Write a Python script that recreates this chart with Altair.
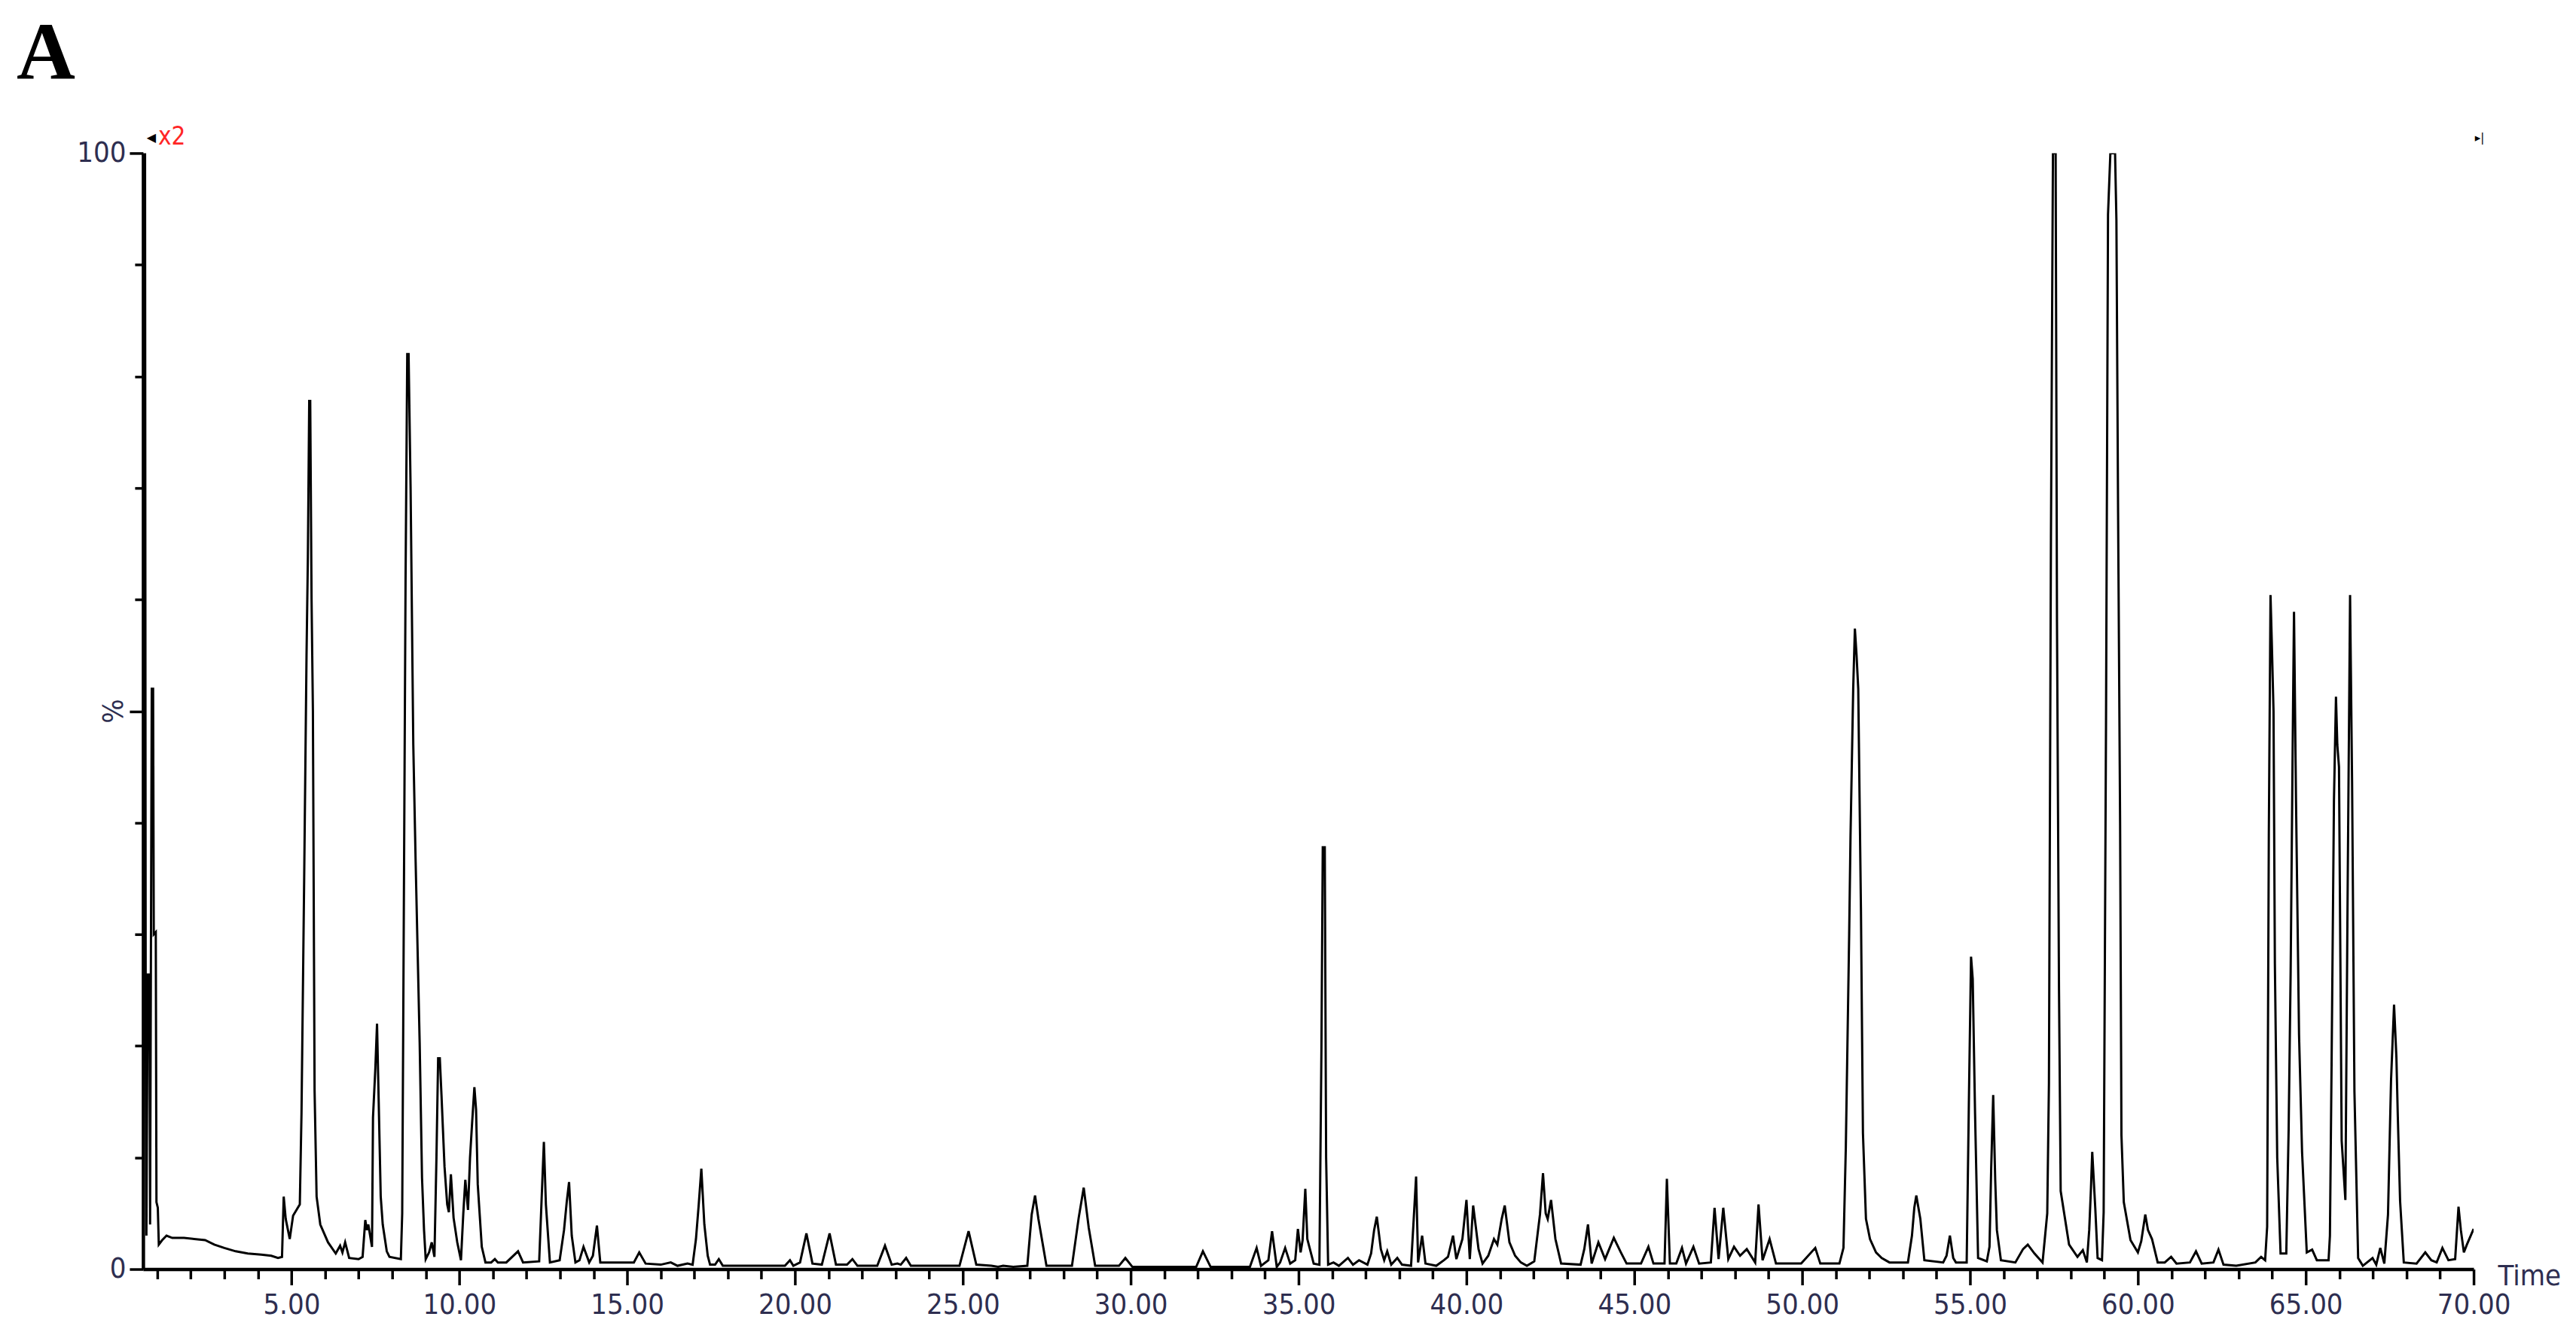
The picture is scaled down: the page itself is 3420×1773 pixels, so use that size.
import altair as alt
import pandas as pd

# ---- chromatogram trace (time in min, intensity in %) ----
time_min = [
    0.59, 0.60, 0.64, 0.66, 0.68, 0.72, 0.77, 0.79, 0.84, 0.88, 0.90, 0.96, 0.98, 1.02, 1.05, 1.15, 1.28, 1.45,
    1.8, 2.1, 2.43, 2.7, 3.0, 3.34, 3.7, 4.1, 4.4, 4.6, 4.72,
    4.77, 4.83, 4.95, 5.05, 5.17, 5.25, 5.30, 5.38, 5.45, 5.49, 5.53, 5.56, 5.60, 5.64, 5.69, 5.75, 5.86, 6.09,
    6.32, 6.45, 6.52, 6.60, 6.72, 7.0, 7.12, 7.20, 7.25, 7.29, 7.40, 7.43, 7.50, 7.55, 7.60, 7.66, 7.72, 7.84,
    7.92, 8.26,
    8.30, 8.33, 8.40, 8.45, 8.49, 8.55, 8.63, 8.70, 8.82, 8.89, 8.95, 9.00, 9.10, 9.18, 9.26, 9.32, 9.37, 9.42,
    9.47, 9.56, 9.64, 9.69, 9.75, 9.83, 9.94, 10.05, 10.12, 10.18, 10.26, 10.32, 10.38, 10.45, 10.50, 10.55,
    10.61, 10.67, 10.78,
    10.95, 11.06, 11.15, 11.4, 11.75, 11.90, 12.38, 12.44, 12.52, 12.58, 12.70, 12.99, 13.12, 13.20, 13.27,
    13.35, 13.46, 13.58, 13.70, 13.87, 13.98, 14.10, 14.20, 14.8, 15.20, 15.36, 15.55, 16.0, 16.3, 16.5, 16.8,
    16.95, 17.05, 17.13, 17.21, 17.30, 17.40, 17.47, 17.62, 17.73, 17.85, 19.7,
    19.85, 19.95, 20.15, 20.34, 20.52, 20.80, 21.03, 21.22, 21.55, 21.71, 21.86, 22.45, 22.68, 22.88, 23.05,
    23.15, 23.31, 23.45, 24.90, 25.17, 25.40, 25.85, 26.05, 26.2, 26.5, 26.92, 27.05, 27.15, 27.25, 27.49,
    28.25, 28.45, 28.60, 28.75, 28.94, 29.65, 29.84, 30.05, 31.95, 32.15, 32.38, 33.55, 33.75, 33.88, 34.10,
    34.21, 34.35, 34.45, 34.60, 34.75, 34.90, 34.98, 35.06, 35.12, 35.20, 35.26, 35.32, 35.45, 35.62, 35.68,
    35.72, 35.78, 35.82, 35.88, 36.04, 36.20,
    36.47, 36.62, 36.80, 37.05, 37.16, 37.25, 37.33, 37.45, 37.55, 37.64, 37.76, 37.94, 38.08, 38.35, 38.42,
    38.50, 38.56, 38.68, 38.78, 39.10, 39.33, 39.45, 39.60, 39.70, 39.88, 40.00, 40.10, 40.20, 40.36, 40.48,
    40.65, 40.82, 40.92, 41.05, 41.14, 41.28, 41.45, 41.62, 41.80, 42.02, 42.19, 42.28, 42.36, 42.42, 42.52,
    42.65, 42.82, 43.40, 43.51, 43.62, 43.73, 43.93, 44.13, 44.39, 44.60, 44.77, 45.20, 45.42, 45.57, 45.90,
    45.97, 46.06, 46.25, 46.42, 46.54, 46.76, 46.93, 47.28, 47.39, 47.51, 47.65, 47.80, 47.97, 48.15, 48.35,
    48.60, 48.70, 48.82, 49.03, 49.22, 49.97, 50.39, 50.54, 51.11, 51.23,
    51.30, 51.40, 51.44, 51.52, 51.57, 51.62, 51.67, 51.75, 51.81, 51.90, 52.02, 52.20, 52.37, 52.60, 53.15,
    53.27, 53.34, 53.40, 53.52, 53.64, 54.20, 54.30, 54.40, 54.50, 54.58, 54.90, 54.97, 55.03, 55.08, 55.15,
    55.24, 55.50, 55.58, 55.63, 55.69, 55.75, 55.80, 55.92, 56.35, 56.58, 56.72, 56.92, 57.16, 57.30, 57.35,
    57.41, 57.47, 57.55, 57.59, 57.65, 57.70, 57.95, 58.20, 58.36, 58.48, 58.55, 58.60, 58.64, 58.73, 58.80,
    58.93, 58.98, 59.05, 59.11, 59.18, 59.32, 59.36, 59.41, 59.47, 59.51, 59.58, 59.78, 60.00, 60.10, 60.22,
    60.30, 60.42, 60.59, 60.80, 60.99, 61.15, 61.55, 61.73, 61.90, 62.25, 62.40, 62.55, 62.93, 63.50, 63.67,
    63.79, 63.85, 63.90, 63.95, 63.99, 64.04, 64.08, 64.15, 64.25, 64.42, 64.49, 64.55, 64.62, 64.65, 64.71,
    64.80, 64.89, 65.03, 65.19, 65.33, 65.68, 65.72, 65.77, 65.84, 65.90, 65.94, 65.99, 66.07, 66.18, 66.25,
    66.32, 66.38, 66.45, 66.56, 66.70, 66.99, 67.10, 67.22, 67.34, 67.45, 67.54, 67.63, 67.70, 67.74, 67.81,
    67.92, 68.30, 68.56, 68.74, 68.90, 69.07, 69.25, 69.45, 69.55, 69.62, 69.71, 69.80, 70.00,
]

signal_pct = [
    1.5, 100, 100, 20, 3, 26.4, 26.4, 4, 52, 52, 30, 30.2, 6, 5.5, 2.2, 2.6, 3.0, 2.8,
    2.8, 2.7, 2.6, 2.2, 1.9, 1.6, 1.4, 1.3, 1.2, 1.0, 1.1,
    6.5, 4.5, 2.7, 4.8, 5.4, 5.8, 13.9, 35, 55, 63.8, 77.8, 77.8, 60, 50, 16, 6.5, 4.0, 2.4,
    1.4, 2.1, 1.5, 2.4, 1.0, 0.9, 1.1, 4.4, 3.5, 4.0, 2.0, 13.6, 18, 22.0, 15, 6.5, 4, 1.6,
    1.1, 0.9,
    5, 21.6, 61.8, 82, 82, 69.9, 47, 36.5, 20.3, 8.2, 3.5, 0.9, 1.5, 2.4, 1.1, 10, 18.9, 18.9,
    15.6, 9.2, 5.8, 5.1, 8.5, 4.6, 2.4, 0.8, 5, 8.0, 5.3, 10, 13, 16.3, 14.3, 7.6,
    4.8, 2.0, 0.6,
    0.6, 0.9, 0.6, 0.6, 1.6, 0.6, 0.7, 5.3, 11.4, 5.8, 0.6, 0.8, 3.5, 6, 7.8,
    3.0, 0.6, 0.8, 2.0, 0.6, 1.2, 3.9, 0.6, 0.6, 0.6, 1.5, 0.5, 0.4, 0.6, 0.3, 0.5,
    0.4, 2.7, 5.7, 9.0, 4.0, 1.2, 0.4, 0.4, 0.9, 0.3, 0.3,
    0.8, 0.3, 0.6, 3.2, 0.5, 0.4, 3.2, 0.4, 0.4, 0.9, 0.3, 0.3, 2.1, 0.4, 0.5,
    0.4, 1.0, 0.3, 0.3, 3.4, 0.4, 0.3, 0.2, 0.3, 0.2, 0.3, 4.9, 6.6, 4.5, 0.3,
    0.3, 4.6, 7.3, 3.7, 0.3, 0.3, 1.0, 0.2, 0.2, 1.6, 0.2, 0.2, 1.9, 0.3, 0.8,
    3.4, 0.2, 0.6, 1.9, 0.5, 0.8, 3.6, 1.5, 2.6, 7.2, 2.7, 2.0, 0.5, 0.4, 19.6,
    37.8, 37.8, 10, 0.4, 0.6, 0.3,
    1.0, 0.4, 0.8, 0.4, 1.4, 3.5, 4.7, 1.8, 0.8, 1.6, 0.4, 1.0, 0.4, 0.3, 4,
    8.3, 0.6, 3.0, 0.5, 0.3, 0.8, 1.1, 3.0, 0.9, 2.7, 6.2, 0.9, 5.7, 1.8, 0.5,
    1.2, 2.7, 2.2, 4.5, 5.7, 2.4, 1.2, 0.6, 0.3, 0.7, 4.9, 8.6, 5.0, 4.5, 6.2,
    2.7, 0.5, 0.4, 1.8, 4.0, 0.5, 2.4, 0.9, 2.8, 1.5, 0.5, 0.5, 2.0, 0.5, 0.5,
    8.1, 0.5, 0.5, 1.9, 0.5, 2.0, 0.5, 0.6, 5.5, 0.9, 5.5, 0.9, 2.0, 1.2, 1.8,
    0.6, 5.8, 0.8, 2.7, 0.5, 0.5, 1.9, 0.5, 0.5, 1.9,
    10.9, 30, 38.8, 52, 57.4, 55, 52, 32.4, 12.2, 4.5, 2.7, 1.5, 1.0, 0.6, 0.6,
    3.0, 5.5, 6.6, 4.5, 0.8, 0.6, 1.2, 3.0, 1.0, 0.6, 0.6, 15.9, 28, 26, 13.9,
    1.0, 0.7, 2.0, 9, 15.6, 8, 3.5, 0.8, 0.6, 1.8, 2.2, 1.4, 0.6, 5, 16.6,
    65.5, 100, 100, 58, 25, 7, 2.2, 1.1, 1.7, 0.6, 3.5, 7.1, 10.5, 5.5, 1.0,
    0.8, 5.1, 48.6, 94.5, 100, 100, 94, 67.8, 40, 12, 6.0, 2.6, 1.5, 2.5, 4.9,
    3.5, 2.7, 0.6, 0.6, 1.1, 0.5, 0.6, 1.6, 0.5, 0.6, 1.75, 0.4, 0.3, 0.6, 1.1,
    0.8, 3.8, 39, 60.4, 56, 50, 27.4, 10, 1.4, 1.4, 12.5, 26.7, 50, 58.9, 41.9,
    21, 10.5, 1.5, 1.75, 0.8, 0.8, 3, 18.6, 42, 51.3, 47, 45, 11.5, 6.2, 34.8,
    60.4, 43.6, 15.9, 1.0, 0.3, 1.0, 0.4, 1.9, 0.5, 4.9, 16.9, 23.7, 19, 13.9, 6.1,
    0.6, 0.5, 1.5, 0.8, 0.6, 1.9, 0.8, 0.9, 5.6, 3.5, 1.5, 2.2, 3.6,
]

# axis tick positions
x_tick_values = [round(1.0 + 0.5 * i, 1) for i in range(139)]   # 1.0 ... 70.0
y_tick_values = list(range(0, 101, 10))

# annotation texts: panel letter, magnification marker, scroll marker
panel_letter = ["A"]
marker_text = ["\u25c0", "x2", "\u25b8|"]
marker_time = [0.58, 0.58, 70.0]
marker_pct = [100, 100, 100]

LABEL_FONT = "Liberation Sans Narrow, DejaVu Sans Condensed, Liberation Sans"
LABEL_COLOR = "#2e2e50"
LABEL_SIZE = 38

df = pd.DataFrame({"t": time_min, "v": signal_pct})

x_scale = alt.Scale(domain=[0.58, 70.0], nice=False, zero=False)
y_scale = alt.Scale(domain=[0, 100], nice=False, zero=True)

x_axis = alt.Axis(
    values=x_tick_values,
    labelExpr="datum.value % 5 === 0 ? format(datum.value, '.2f') : ''",
    tickSize={"condition": {"test": "datum.value % 2.5 === 0", "value": 21}, "value": 13},
    tickWidth=3.5,
    tickColor="black",
    domainColor="black",
    domainWidth=4.5,
    labelFont=LABEL_FONT,
    labelFontSize=LABEL_SIZE,
    labelColor=LABEL_COLOR,
    labelPadding=8,
    labelOverlap=False,
    labelFlush=False,
    labelBound=False,
    grid=False,
    title="Time",
    titleFont=LABEL_FONT,
    titleFontSize=LABEL_SIZE,
    titleFontWeight="normal",
    titleColor=LABEL_COLOR,
    titleX=3128,
    titleY=10,
    titleAlign="left",
    titleBaseline="middle",
    titleAnchor="start",
)

y_axis = alt.Axis(
    values=y_tick_values,
    labelExpr="datum.value === 100 ? '100' : (datum.value === 0 ? '0' : '')",
    tickSize={"condition": {"test": "datum.value % 50 === 0", "value": 18}, "value": 11},
    tickWidth=3.5,
    tickColor="black",
    domainColor="black",
    domainWidth=4.5,
    labelFont=LABEL_FONT,
    labelFontSize=LABEL_SIZE,
    labelColor=LABEL_COLOR,
    labelPadding=5,
    labelOverlap=False,
    labelFlush=False,
    grid=False,
    title="%",
    titleFont=LABEL_FONT,
    titleFontSize=LABEL_SIZE,
    titleFontWeight="normal",
    titleColor=LABEL_COLOR,
    titleAngle=270,
    titleX=-38,
    titleY=741,
    titleAlign="center",
    titleBaseline="middle",
)

trace = alt.Chart(df).mark_line(color="#000000", strokeWidth=3, clip=True).encode(
    x=alt.X("t:Q", scale=x_scale, axis=x_axis),
    y=alt.Y("v:Q", scale=y_scale, axis=y_axis),
)

mk = pd.DataFrame({"t": marker_time, "v": marker_pct, "s": marker_text})
letter_df = pd.DataFrame({"t": [marker_time[0]], "v": [marker_pct[0]], "s": panel_letter})

enc = dict(x=alt.X("t:Q", scale=x_scale), y=alt.Y("v:Q", scale=y_scale), text="s:N")

letter = alt.Chart(letter_df).mark_text(
    font="Liberation Serif", fontSize=108, fontWeight="bold", color="black",
    dx=-168, dy=-98, align="left", baseline="alphabetic",
).encode(**enc)

tri = alt.Chart(mk.iloc[[0]]).mark_text(
    font="DejaVu Sans", fontSize=16, color="black", dx=11, dy=-20, align="center", baseline="middle"
).encode(**enc)

x2 = alt.Chart(mk.iloc[[1]]).mark_text(
    font=LABEL_FONT, fontSize=33, color="#ff2626", dx=20, dy=-21, align="left", baseline="middle"
).encode(**enc)

scroll = alt.Chart(mk.iloc[[2]]).mark_text(
    font="DejaVu Sans", fontSize=15, color="black", dx=8, dy=-20, align="center", baseline="middle"
).encode(**enc)

chart = alt.layer(trace, letter, tri, x2, scroll).properties(
    width=3096,
    height=1483,
    autosize=alt.AutoSizeParams(type="none"),
    padding={"left": 182, "top": 195, "right": 128, "bottom": 80},
    background="white",
).configure_view(stroke=None)

chart.save("out.html", embed_options={"renderer": "svg", "actions": False})
